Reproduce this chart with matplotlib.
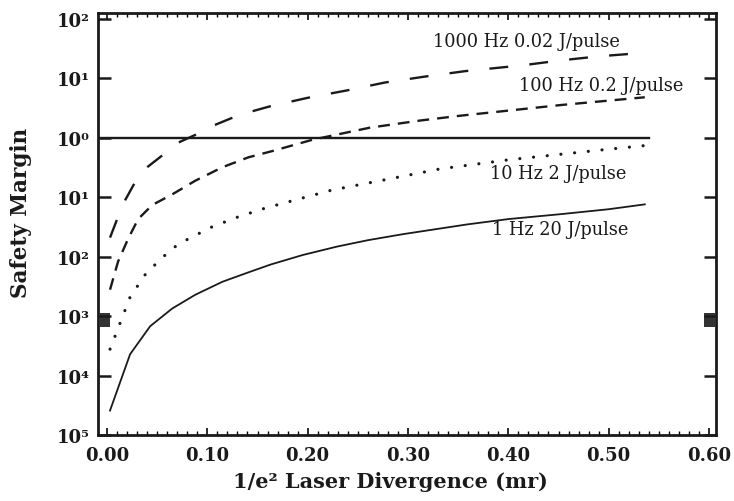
import matplotlib
matplotlib.use('Agg')
import matplotlib.pyplot as plt
from matplotlib.patches import Rectangle
from matplotlib.ticker import FixedLocator, FixedFormatter, MultipleLocator
import matplotlib.transforms as mtransforms

plt.rcParams['font.family'] = ['DejaVu Serif']

# 1 Hz 20 J/pulse (solid)
x_1hz = [0.003, 0.023, 0.043, 0.065, 0.088, 0.115, 0.14, 0.163, 0.195, 0.229, 0.26,
         0.295, 0.33, 0.359, 0.40, 0.452, 0.50, 0.536]
y_1hz = [2.6e-5, 2.3e-4, 6.8e-4, 1.35e-3, 2.3e-3, 3.8e-3, 5.4e-3, 7.4e-3, 1.07e-2, 1.48e-2, 1.9e-2,
         2.4e-2, 2.95e-2, 3.5e-2, 4.3e-2, 5.2e-2, 6.3e-2, 7.6e-2]

# 10 Hz 2 J/pulse (dotted)
x_10hz = [0.003, 0.023, 0.038, 0.048, 0.058, 0.068, 0.081, 0.105, 0.131, 0.158,
          0.224, 0.279, 0.332, 0.402, 0.495, 0.536]
y_10hz = [2.8e-4, 2.1e-3, 5.0e-3, 7.4e-3, 1.07e-2, 1.48e-2, 2.0e-2, 3.2e-2, 4.7e-2, 6.6e-2,
          0.132, 0.20, 0.30, 0.43, 0.63, 0.74]

# 100 Hz 0.2 J/pulse (short dashes)
x_100hz = [0.003, 0.011, 0.021, 0.031, 0.045, 0.065, 0.088, 0.115, 0.141, 0.165,
           0.205, 0.262, 0.312, 0.352, 0.452, 0.536]
y_100hz = [2.8e-3, 8.3e-3, 2.0e-2, 4.3e-2, 7.4e-2, 0.112, 0.19, 0.32, 0.47, 0.60,
           0.93, 1.48, 1.95, 2.35, 3.55, 4.8]

# 1000 Hz 0.02 J/pulse (long dashes)
x_1000hz = [0.003, 0.011, 0.018, 0.028, 0.04, 0.056, 0.071, 0.088, 0.105, 0.124, 0.145,
            0.163, 0.2, 0.24, 0.277, 0.317, 0.357, 0.415, 0.452, 0.49, 0.536]
y_1000hz = [2.1e-2, 4.7e-2, 8.9e-2, 0.18, 0.32, 0.52, 0.83, 1.12, 1.58, 2.14, 2.8,
            3.4, 4.7, 6.3, 8.5, 10.7, 13.2, 16.6, 20.0, 23.4, 26.9]

# safety margin = 1 reference line
x_ref = [-0.009, 0.54]
y_ref = [1.0, 1.0]

x_ticks = [0.0, 0.1, 0.2, 0.3, 0.4, 0.5, 0.6]
x_ticklabels = ['0.00', '0.10', '0.20', '0.30', '0.40', '0.50', '0.60']
y_ticks = [1e2, 1e1, 1e0, 1e-1, 1e-2, 1e-3, 1e-4, 1e-5]
y_ticklabels = ['10²', '10¹', '10⁰', '10¹', '10²', '10³', '10⁴', '10⁵']

labels = ['1000 Hz 0.02 J/pulse', '100 Hz 0.2 J/pulse', '10 Hz 2 J/pulse', '1 Hz 20 J/pulse']
label_x = [0.325, 0.411, 0.382, 0.384]
label_y = [43.0, 7.6, 0.26, 0.029]

fig = plt.figure(figsize=(7.34, 5.02), dpi=100)
ax = fig.add_axes([0.1335, 0.131, 0.842, 0.841])

ink = '#1a1a1a'
ax.plot(x_1000hz, y_1000hz, color=ink, lw=1.7, ls=(0, (8, 9)), dash_capstyle='butt')
ax.plot(x_100hz, y_100hz, color=ink, lw=1.7, ls=(0, (5, 3.4)), dash_capstyle='butt')
ax.plot(x_10hz, y_10hz, color=ink, lw=2.3, ls=(0, (0.01, 4.3)), dash_capstyle='round')
ax.plot(x_1hz, y_1hz, color=ink, lw=1.3)
ax.plot(x_ref, y_ref, color=ink, lw=1.7)

for txt, tx, ty in zip(labels, label_x, label_y):
    ax.text(tx, ty, txt, fontsize=12.8, color=ink, ha='left', va='center')

ax.set_yscale('log')
ax.set_xlim(-0.009, 0.607)
ax.set_ylim(1e-5, 1.25e2)

ax.xaxis.set_major_locator(FixedLocator(x_ticks))
ax.xaxis.set_major_formatter(FixedFormatter(x_ticklabels))
ax.xaxis.set_minor_locator(MultipleLocator(0.01))
ax.yaxis.set_major_locator(FixedLocator(y_ticks))
ax.yaxis.set_major_formatter(FixedFormatter(y_ticklabels))
ax.yaxis.set_minor_locator(FixedLocator([]))

ax.tick_params(axis='x', which='major', direction='in', length=5, width=1.3,
               top=True, bottom=True, pad=8, labelsize=13, colors=ink)
ax.tick_params(axis='x', which='minor', direction='in', length=3, width=1.0,
               top=True, bottom=True)
ax.tick_params(axis='y', which='major', direction='in', length=9, width=1.8,
               left=True, right=True, pad=6, labelsize=13, colors=ink)
for lab in ax.get_xticklabels() + ax.get_yticklabels():
    lab.set_fontweight('bold')

for sp in ax.spines.values():
    sp.set_linewidth(2.0)
    sp.set_color(ink)

# dark square marks on the side spines near 10^-3
trans = mtransforms.blended_transform_factory(ax.transAxes, ax.transData)
for xa in (0.003, 0.981):
    ax.add_patch(Rectangle((xa, 6.7e-4), 0.017, 4.5e-4, transform=trans,
                           facecolor='#333333', edgecolor='none', clip_on=False))

ax.set_xlabel('1/e² Laser Divergence (mr)', fontsize=15, fontweight='bold', color=ink)
ax.set_ylabel('Safety Margin', fontsize=15.5, fontweight='bold', color=ink)
ax.xaxis.set_label_coords(0.474, -0.085)
ax.yaxis.set_label_coords(-0.107, 0.53)

fig.savefig('out.png', dpi=100, facecolor='white')
